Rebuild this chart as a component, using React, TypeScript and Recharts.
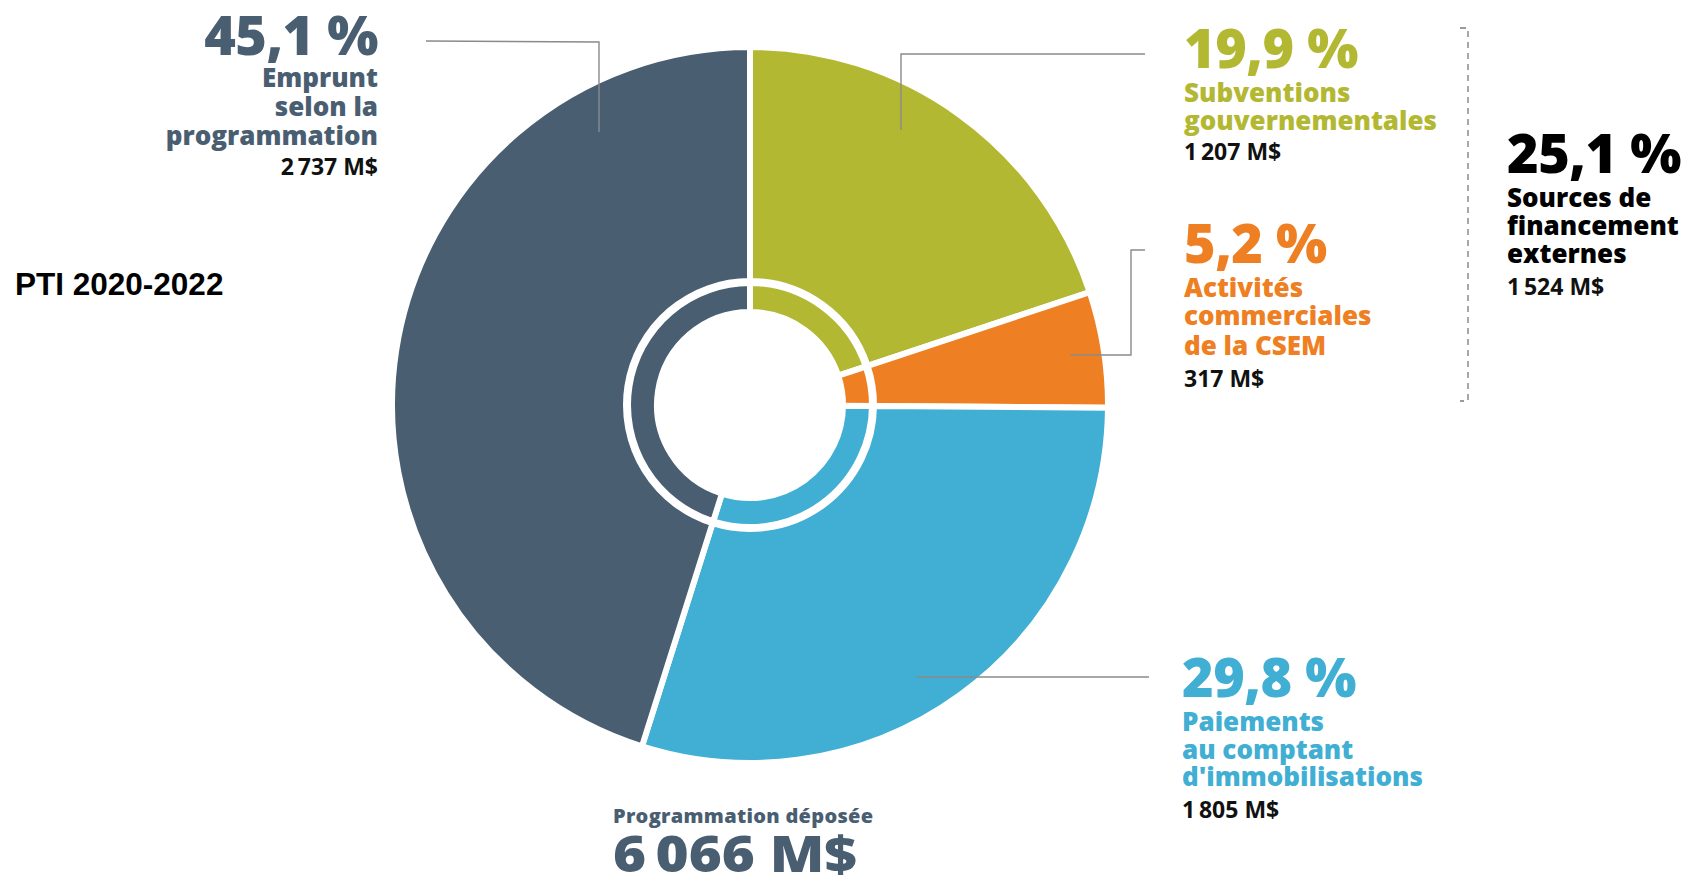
import React from 'react';
import { PieChart, Pie, Cell } from 'recharts';

// ---- data ----
const categories = [
  'Subventions gouvernementales',
  'Activités commerciales de la CSEM',
  "Paiements au comptant d'immobilisations",
  'Emprunt selon la programmation',
];
const labelLines = [
  ['Subventions', 'gouvernementales'],
  ['Activités', 'commerciales', 'de la CSEM'],
  ['Paiements', 'au comptant', "d'immobilisations"],
  ['Emprunt', 'selon la', 'programmation'],
];
const amounts = [1207, 317, 1805, 2737]; // M$
const colors = ['#b3b833', '#ee7f22', '#41aed3', '#4a5e72'];
const externalLines = ['Sources de', 'financement', 'externes'];
const externalIdx = [0, 1];
const totalLabel = 'Programmation déposée';
const title = 'PTI 2020-2022';

const total = amounts.reduce((a, b) => a + b, 0);
const externalTotal = externalIdx.reduce((a, i) => a + amounts[i], 0);
const data = categories.map((name, i) => ({ name, value: amounts[i] }));

const pct = (v: number) => (v / total * 100).toFixed(1).replace('.', ',') + ' %';
const money = (v: number) => String(v).replace(/\B(?=(\d{3})+(?!\d))/g, '\u2009') + ' M$';

// ---- layout ----
const W = 1692;
const H = 885;
const CX = 750;
const CY = 405;
const FONT = '"Open Sans", "Noto Sans", sans-serif';

const labelLayout = [
  { x: 1184, anchor: 'start', pctY: 68, lineY: [102, 130], valY: 160, leader: '1145,54 901,54 901,130' },
  { x: 1184, anchor: 'start', pctY: 263, lineY: [297, 325, 355], valY: 387, leader: '1145,250 1131,250 1131,355 1070,355' },
  { x: 1182, anchor: 'start', pctY: 697, lineY: [731, 759, 786], valY: 818, leader: '1149,677 917,677' },
  { x: 378, anchor: 'end', pctY: 55, lineY: [87, 116, 145], valY: 175, leader: '426,41 599,42 599,132' },
];

export default function App() {
  return (
    <div style={{ position: 'absolute', left: 0, top: 0, width: W, height: H, background: '#fff' }}>
      <div style={{ position: 'absolute', left: 0, top: 0 }}>
        <PieChart width={W} height={H} margin={{ top: 0, right: 0, bottom: 0, left: 0 }}>
          <Pie
            data={data}
            dataKey="value"
            cx={CX}
            cy={CY}
            innerRadius={124}
            outerRadius={358}
            startAngle={90}
            endAngle={-270}
            stroke="#ffffff"
            strokeWidth={6}
            isAnimationActive={false}
          >
            {data.map((d, i) => (
              <Cell key={d.name} fill={colors[i]} />
            ))}
          </Pie>
          <Pie
            data={data}
            dataKey="value"
            cx={CX}
            cy={CY}
            innerRadius={93}
            outerRadius={122}
            startAngle={90}
            endAngle={-270}
            stroke="#ffffff"
            strokeWidth={6}
            isAnimationActive={false}
          >
            {data.map((d, i) => (
              <Cell key={d.name} fill={colors[i]} />
            ))}
          </Pie>
        </PieChart>
      </div>
      <svg width={W} height={H} style={{ position: 'absolute', left: 0, top: 0, pointerEvents: 'none' }}>
        {labelLayout.map((l, i) => (
          <polyline key={'ld' + i} points={l.leader} fill="none" stroke="#8a8a8a" strokeWidth={1.4} />
        ))}
        <polyline points="1460,28 1468,28 1468,401 1460,401" fill="none" stroke="#7a7a7a" strokeWidth={1.3} strokeDasharray="6 5" />
        {labelLayout.map((l, i) => (
          <g key={'lb' + i} fontFamily={FONT} textAnchor={l.anchor as any}>
            <text x={l.x} y={l.pctY} fontSize={54} fontWeight={800} fill={colors[i]} letterSpacing={-0.5}>
              {pct(amounts[i])}
            </text>
            {labelLines[i].map((t, j) => (
              <text key={j} x={l.x} y={l.lineY[j]} fontSize={26} fontWeight={800} fill={colors[i]}>
                {t}
              </text>
            ))}
            <text x={l.x} y={l.valY} fontSize={23} fontWeight={700} fill="#111">
              {money(amounts[i])}
            </text>
          </g>
        ))}
        <g fontFamily={FONT}>
          <text x={1507} y={173} fontSize={54} fontWeight={800} fill="#000" letterSpacing={-0.5}>
            {pct(externalTotal)}
          </text>
          {externalLines.map((t, j) => (
            <text key={j} x={1507} y={[207, 235, 263][j]} fontSize={26} fontWeight={800} fill="#000">
              {t}
            </text>
          ))}
          <text x={1507} y={295} fontSize={23} fontWeight={700} fill="#111">
            {money(externalTotal)}
          </text>
          <text x={613} y={823} fontSize={20} fontWeight={800} fill={colors[3]} letterSpacing={0.3}>
            {totalLabel}
          </text>
          <text x={613} y={872} fontSize={50} fontWeight={800} fill={colors[3]} textLength={244} lengthAdjust="spacingAndGlyphs">
            {money(total)}
          </text>
        </g>
        <text x={15} y={295} fontFamily='"Liberation Sans", Arial, sans-serif' fontSize={31.5} fontWeight={700} fill="#000">
          {title}
        </text>
      </svg>
    </div>
  );
}
